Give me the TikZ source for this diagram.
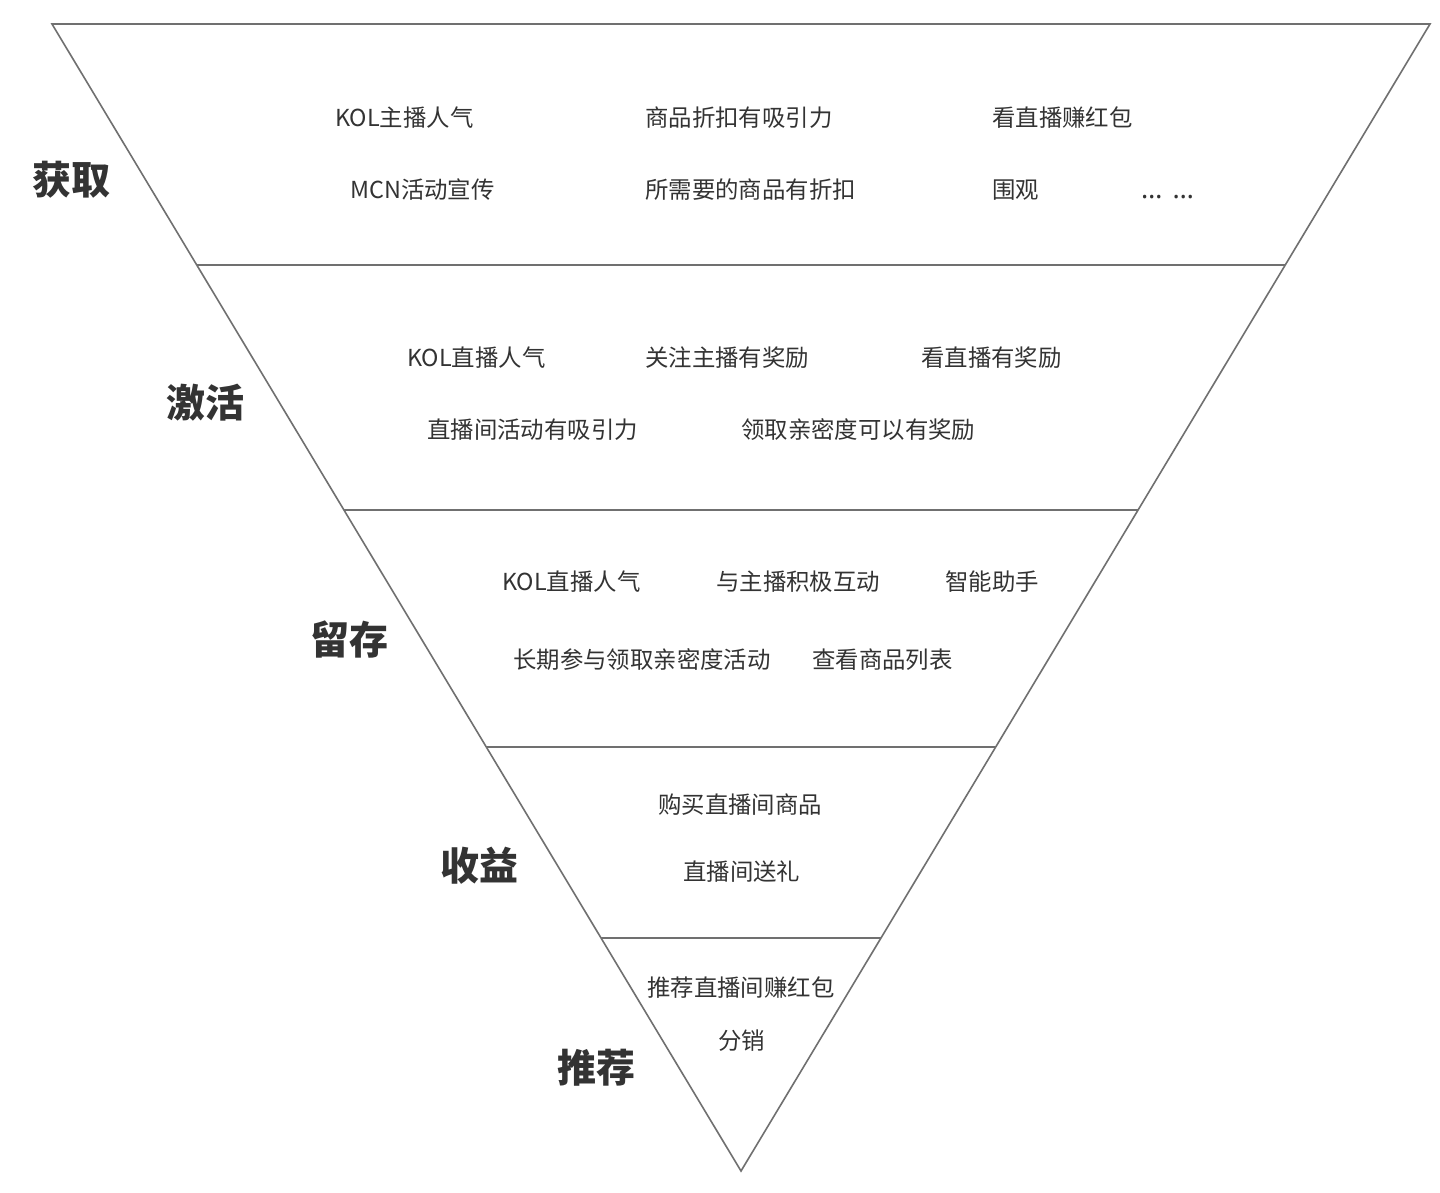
\documentclass[tikz,border=0pt]{standalone}
\usepackage{fontspec}
\newfontfamily\cjk{Noto Sans CJK SC}
\newfontfamily\latinsans{Noto Sans}
\usetikzlibrary{calc}
\definecolor{lc}{HTML}{707070}
\definecolor{txt}{HTML}{333333}
\tikzset{
  item/.style={font=\cjk\fontsize{23.4}{28}\selectfont, text=txt, inner sep=0pt, anchor=west},
  stage/.style={font=\cjk\bfseries\fontsize{39}{44}\selectfont, text=txt, inner sep=0pt, anchor=west},
  edge/.style={draw=lc, line width=1.6pt, line join=miter},
  divider/.style={draw=lc, line width=1.5pt}
}
\begin{document}
\begin{tikzpicture}[x=1pt,y=-1pt]
\useasboundingbox (0,0) rectangle (1440,1192);
\fill[white] (0,0) rectangle (1440,1192);
\coordinate (TL) at (52,24);
\coordinate (TR) at (1430,24);
\coordinate (A) at (741,1171);
\draw[edge] (TL) -- (TR) -- (A) -- cycle;
\foreach \yy/\nm in {265/a,510/b,747/c,938/d}{
  \coordinate (L\nm) at ($(TL)!{(\yy-24)/1147}!(A)$);
  \coordinate (R\nm) at ($(TR)!{(\yy-24)/1147}!(A)$);
  \draw[divider] (L\nm) -- (R\nm);
}
% stage labels
\node[stage] (s1) at (32,180) {获取};
\node[stage] (s2) at (166,403) {激活};
\node[stage] (s3) at (310,640) {留存};
\node[stage] (s4) at (440,866) {收益};
\node[stage] (s5) at (557,1068) {推荐};
% section 1
\node[item] (a1) at (335,118) {KOL主播人气};
\node[item] (a2) at (645,118) {商品折扣有吸引力};
\node[item] (a3) at (992,118) {看直播赚红包};
\node[item] (a4) at (350,190) {MCN活动宣传};
\node[item] (a5) at (645,190) {所需要的商品有折扣};
\node[item] (a6) at (992,190) {围观};
\node[item, anchor=base west, font=\latinsans\fontsize{27}{30}\selectfont] (a7) at (1141,198) {…\hspace{10pt}…};
% section 2
\node[item] (b1) at (407,358) {KOL直播人气};
\node[item] (b2) at (645,358) {关注主播有奖励};
\node[item] (b3) at (921,358) {看直播有奖励};
\node[item] (b4) at (427,430) {直播间活动有吸引力};
\node[item] (b5) at (741,430) {领取亲密度可以有奖励};
% section 3
\node[item] (c1) at (502,582) {KOL直播人气};
\node[item] (c2) at (716,582) {与主播积极互动};
\node[item] (c3) at (945,582) {智能助手};
\node[item] (c4) at (513,660) {长期参与领取亲密度活动};
\node[item] (c5) at (812,660) {查看商品列表};
% section 4
\node[item] (d1) at (658,805) {购买直播间商品};
\node[item] (d2) at (683,872) {直播间送礼};
% section 5
\node[item] (e1) at (647,988) {推荐直播间赚红包};
\node[item] (e2) at (718,1041) {分销};
\end{tikzpicture}
\end{document}
